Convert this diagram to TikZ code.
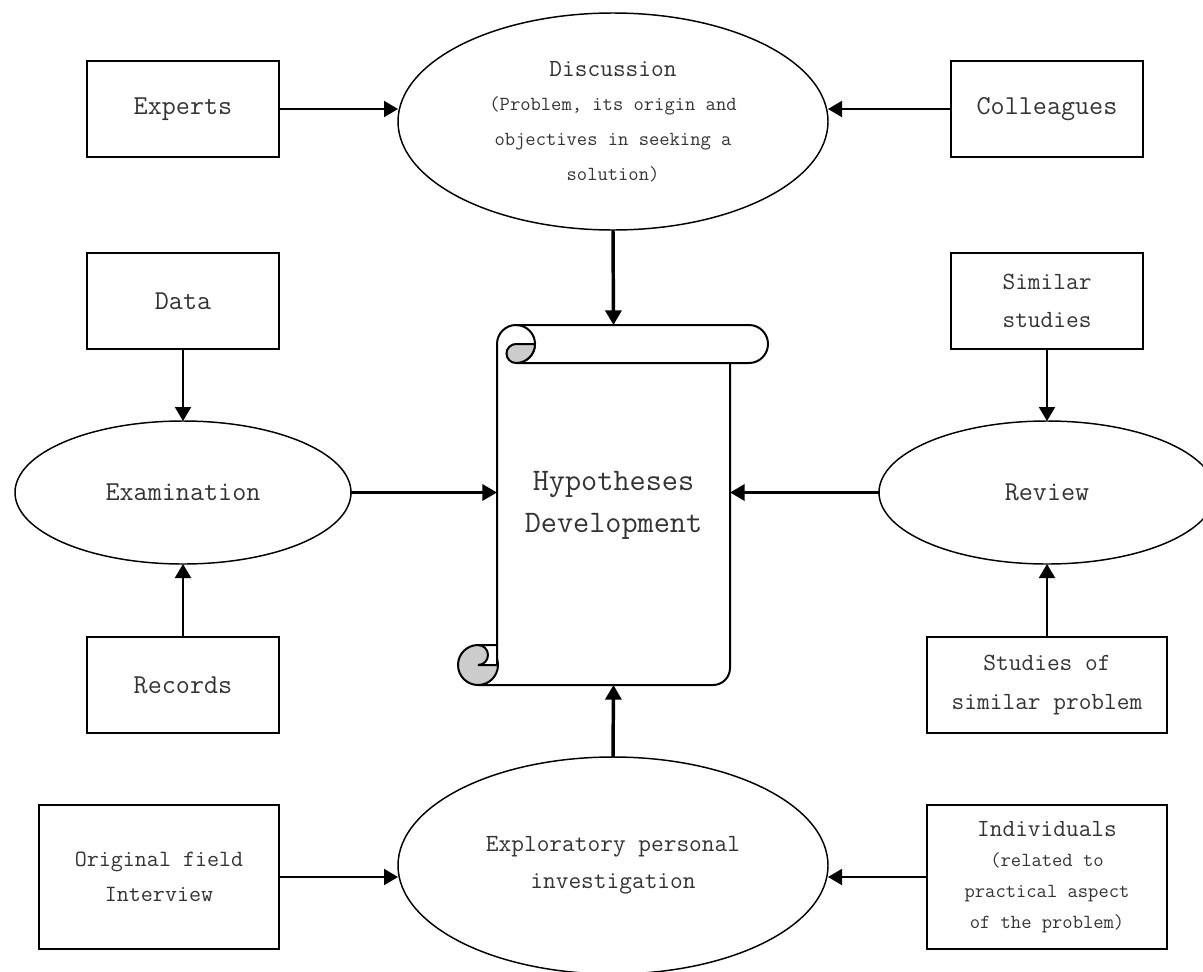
\documentclass[tikz,border=0pt]{standalone}
\usetikzlibrary{shapes.geometric,arrows.meta}
\newcommand{\subtxt}{\fontsize{15}{26}\selectfont}
\tikzset{
  box/.style={draw, rectangle, line width=1.5pt, inner sep=2pt, outer sep=0pt, align=center, text=black!80, font=\ttfamily\fontsize{20.5}{29}\selectfont},
  midbox/.style={box, font=\ttfamily\fontsize{18.5}{29}\selectfont},
  oval/.style={draw, ellipse, line width=1.1pt, inner sep=0pt, outer sep=0pt, align=center, text=black!80, font=\ttfamily\fontsize{20.5}{27}\selectfont},
  link/.style={line width=1.5pt, -{Triangle[length=10.5pt,width=12pt]}},
  biglink/.style={line width=2.6pt, -{Triangle[length=11pt,width=12pt]}},
}
\begin{document}
\begin{tikzpicture}[x=0.75pt, y=-0.75pt]
  \useasboundingbox (0,0) rectangle (1203,971); % page frame

  % the scroll in the middle
  \filldraw[line width=1.5pt, fill=gray!40] (478,665) circle (20); % bottom curl
  \filldraw[line width=1.5pt, fill=white] (478,645) -- (497,645) -- (497,665) -- (478,665) arc (90:-90:10);
  \draw[line width=1.5pt] (478,685) -- (713,685) arc (90:0:17) -- (730,363); % bottom and right side
  \draw[line width=1.5pt] (497,645) -- (497,344) arc (180:450:19); % left side and top curl
  \draw[line width=1.5pt] (516,325) -- (749,325) arc (-90:90:19) -- (516,363); % top roll
  \filldraw[line width=1.5pt, fill=gray!40] (516,344) -- (535,344) arc (0:90:19) arc (90:270:9.5) -- cycle;
  \node[minimum width=174.75pt, minimum height=270pt, inner sep=0pt, outer sep=0pt, align=center, text=black!80,
        font=\ttfamily\fontsize{23.5}{31.5}\selectfont] (hyp) at (613.5,505) {Hypotheses\\Development};

  % top row
  \node[box, minimum width=144pt, minimum height=72pt] (experts) at (183,109) {Experts};
  \node[box, minimum width=144pt, minimum height=72pt] (colleagues) at (1047,109) {Colleagues};
  \node[oval, minimum width=322.5pt, minimum height=162.75pt, font=\ttfamily\fontsize{18.5}{26}\selectfont] (disc) at (613,121.5)
    {Discussion\\\subtxt(Problem, its origin and\\\subtxt objectives in seeking a\\\subtxt solution)};

  % left column
  \node[box, minimum width=144pt, minimum height=72pt] (data) at (183,301) {Data};
  \node[oval, minimum width=252pt, minimum height=107.25pt] (exam) at (183,492.5) {Examination};
  \node[box, minimum width=144pt, minimum height=72pt] (records) at (183,685) {Records};

  % right column
  \node[midbox, minimum width=144pt, minimum height=72pt] (similar) at (1047,301) {Similar\\studies};
  \node[oval, minimum width=252pt, minimum height=107.25pt] (review) at (1047,492.5) {Review};
  \node[midbox, minimum width=180pt, minimum height=72pt] (studies) at (1047,685) {Studies of\\similar problem};

  % bottom row
  \node[box, minimum width=180pt, minimum height=108pt, font=\ttfamily\fontsize{17.5}{26}\selectfont] (field) at (159,877) {Original field\\Interview};
  \node[oval, minimum width=322.5pt, minimum height=162.75pt, font=\ttfamily\fontsize{18.5}{27.5}\selectfont] (expl) at (613,865.5)
    {Exploratory personal\\investigation};
  \node[midbox, minimum width=180pt, minimum height=108pt, font=\ttfamily\fontsize{18.5}{23}\selectfont] (indiv) at (1047,877)
    {Individuals\\\subtxt(related to\\\subtxt practical aspect\\\subtxt of the problem)};

  % arrows
  \draw[link] (experts.east) -- (disc.west |- experts.east);
  \draw[link] (colleagues.west) -- (disc.east |- colleagues.west);
  \draw[link] (data.south) -- (exam.north);
  \draw[link] (records.north) -- (exam.south);
  \draw[link] (similar.south) -- (review.north);
  \draw[link] (studies.north) -- (review.south);
  \draw[link] (field.east) -- (expl.west |- field.east);
  \draw[link] (indiv.west) -- (expl.east |- indiv.west);
  \draw[biglink] (disc.south) -- (hyp.north); % into the scroll
  \draw[biglink] (exam.east) -- (exam.east -| hyp.west);
  \draw[biglink] (review.west) -- (review.west -| hyp.east);
  \draw[biglink] (expl.north) -- (hyp.south);
\end{tikzpicture}
\end{document}
